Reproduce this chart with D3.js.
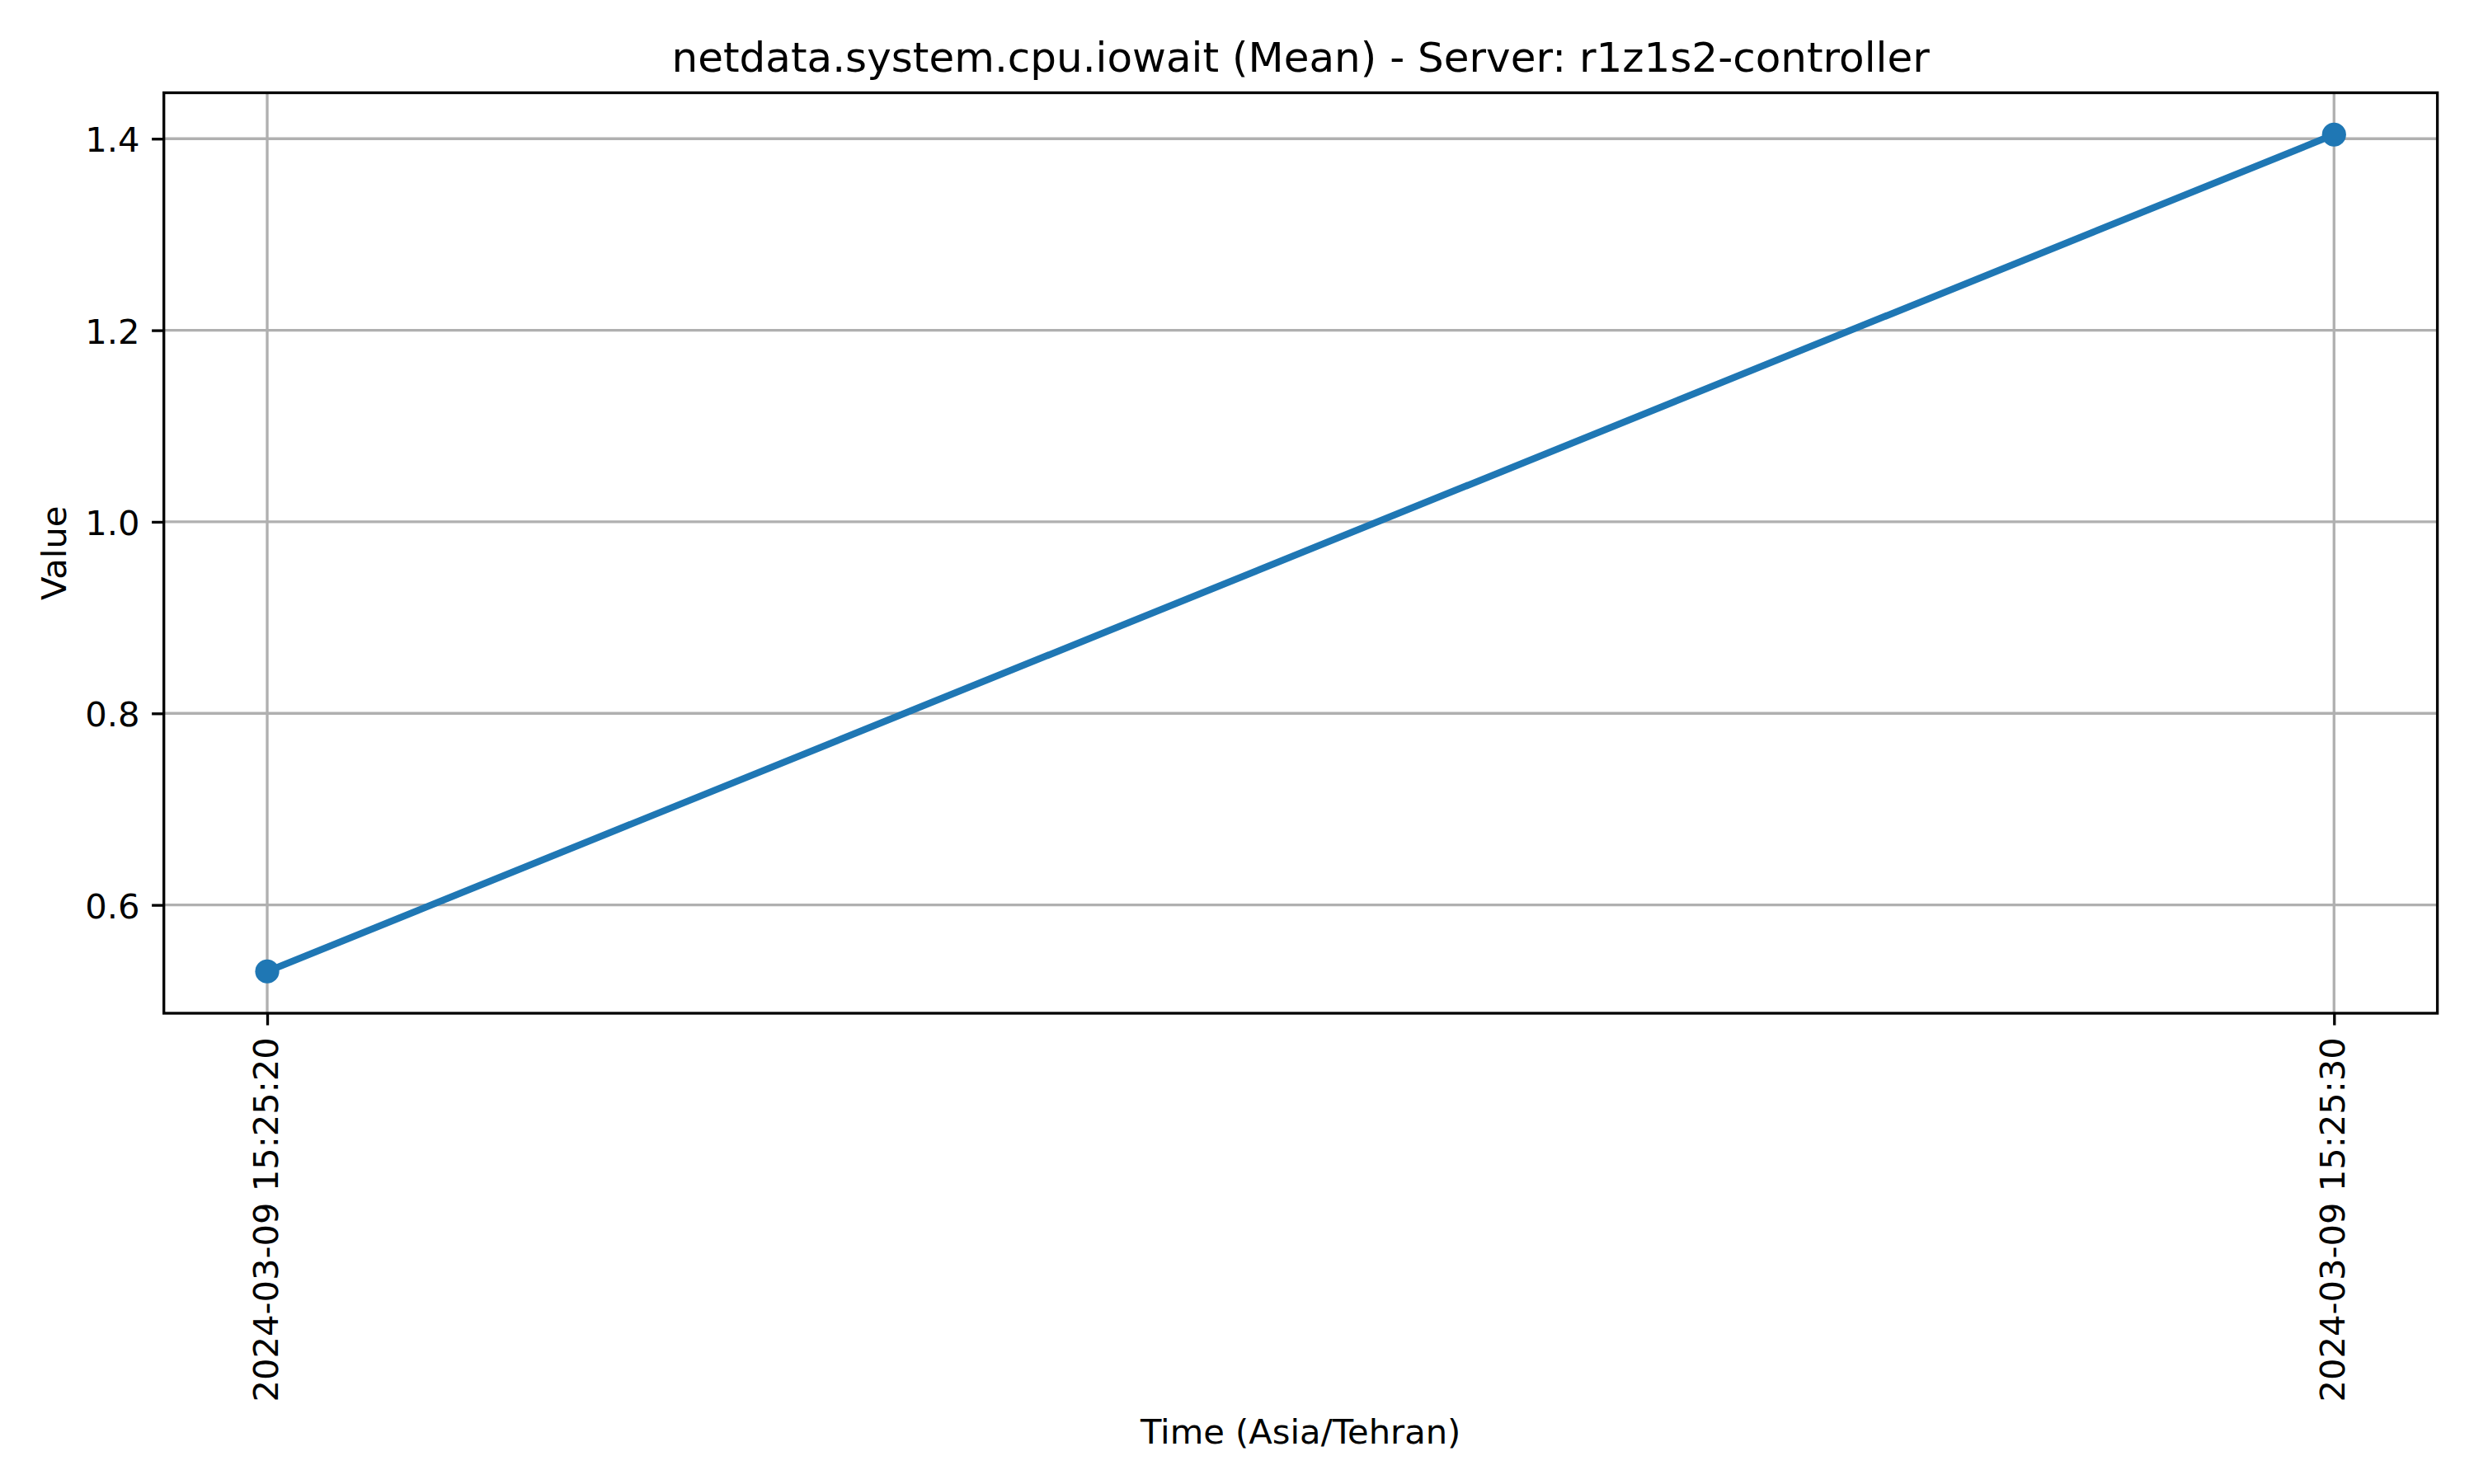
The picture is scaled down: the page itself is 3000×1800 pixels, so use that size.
<!DOCTYPE html>
<html>
<head>
<meta charset="utf-8">
<script src="https://cdn.jsdelivr.net/npm/d3@7"></script>
<style>
  html, body { margin: 0; padding: 0; background: #fff; }
  svg text { font-family: "DejaVu Sans", sans-serif; fill: #000; }
</style>
</head>
<body>
<svg id="chart" width="3000" height="1800"></svg>
<script>
// ---- data ----
const times = ["2024-03-09 15:25:20", "2024-03-09 15:25:30"];
const values = [0.5306, 1.4043];
const yTicks = [0.6, 0.8, 1.0, 1.2, 1.4];
const titleText = "netdata.system.cpu.iowait (Mean) - Server: r1z1s2-controller";
const xLabel = "Time (Asia/Tehran)";
const yLabel = "Value";

// ---- layout ----
const W = 3000, H = 1800;
const plot = { left: 198.7, right: 2955.6, top: 112.5, bottom: 1229 };
const blue = "#1f77b4";
const tickLen = 14.58, tickPad = 14.58;
const fs = 41.67;

const parse = d3.utcParse("%Y-%m-%d %H:%M:%S");
const fmt = d3.utcFormat("%Y-%m-%d %H:%M:%S");
const data = times.map((t, i) => ({ t: parse(t), v: values[i] }));

const tExt = d3.extent(data, d => +d.t);
const tPad = (tExt[1] - tExt[0]) * 0.05;
const x = d3.scaleUtc()
  .domain([new Date(tExt[0] - tPad), new Date(tExt[1] + tPad)])
  .range([plot.left, plot.right]);

const vExt = d3.extent(values);
const vPad = (vExt[1] - vExt[0]) * 0.05;
const y = d3.scaleLinear()
  .domain([vExt[0] - vPad, vExt[1] + vPad])
  .range([plot.bottom, plot.top]);

const svg = d3.select("#chart");
svg.append("rect").attr("width", W).attr("height", H).attr("fill", "#fff");

// grid
const grid = svg.append("g");
grid.selectAll("line.gx").data(data).join("line")
  .attr("x1", d => x(d.t)).attr("x2", d => x(d.t))
  .attr("y1", plot.top).attr("y2", plot.bottom)
  .attr("stroke", "#b0b0b0").attr("stroke-width", 3.33);
grid.selectAll("line.gy").data(yTicks).join("line")
  .attr("x1", plot.left).attr("x2", plot.right)
  .attr("y1", d => y(d)).attr("y2", d => y(d))
  .attr("stroke", "#b0b0b0").attr("stroke-width", 3.33);

// line + markers
const line = d3.line().x(d => x(d.t)).y(d => y(d.v));
svg.append("path").datum(data)
  .attr("d", line).attr("fill", "none")
  .attr("stroke", blue).attr("stroke-width", 8.33)
  .attr("stroke-linecap", "square");
svg.selectAll("circle.pt").data(data).join("circle")
  .attr("cx", d => x(d.t)).attr("cy", d => y(d.v))
  .attr("r", 14.6).attr("fill", blue);

// axes frame
svg.append("rect")
  .attr("x", plot.left).attr("y", plot.top)
  .attr("width", plot.right - plot.left).attr("height", plot.bottom - plot.top)
  .attr("fill", "none").attr("stroke", "#000").attr("stroke-width", 3.33)
  .attr("stroke-linejoin", "miter");

// y axis ticks
const yAxis = d3.axisLeft(y).tickValues(yTicks).tickFormat(d3.format(".1f"))
  .tickSize(tickLen).tickPadding(tickPad);
const gy = svg.append("g").attr("transform", `translate(${plot.left},0)`).call(yAxis);
gy.select(".domain").remove();
gy.selectAll(".tick line").attr("stroke", "#000").attr("stroke-width", 3.33);
gy.selectAll(".tick text")
  .attr("font-size", fs).attr("font-family", "DejaVu Sans, sans-serif")
  .attr("fill", "#000").attr("dy", "0.37em");

// x axis ticks
const xAxis = d3.axisBottom(x).tickValues(data.map(d => d.t)).tickFormat(fmt)
  .tickSize(tickLen).tickPadding(tickPad);
const gx = svg.append("g").attr("transform", `translate(0,${plot.bottom})`).call(xAxis);
gx.select(".domain").remove();
gx.selectAll(".tick line").attr("stroke", "#000").attr("stroke-width", 3.33);
gx.selectAll(".tick text")
  .attr("font-size", fs).attr("font-family", "DejaVu Sans, sans-serif")
  .attr("fill", "#000")
  .attr("text-anchor", "end")
  .attr("transform", `translate(0,${tickLen + tickPad}) rotate(-90)`)
  .attr("x", 0).attr("y", 0).attr("dy", 12);

// labels
const cx = (plot.left + plot.right) / 2;
const cy = (plot.top + plot.bottom) / 2;
svg.append("text").attr("x", cx).attr("y", 87)
  .attr("text-anchor", "middle").attr("font-size", 50).text(titleText);
svg.append("text").attr("x", cx).attr("y", 1751)
  .attr("text-anchor", "middle").attr("font-size", fs).text(xLabel);
svg.append("text")
  .attr("transform", `translate(80,${cy}) rotate(-90)`)
  .attr("text-anchor", "middle").attr("font-size", fs).text(yLabel);
</script>
</body>
</html>
